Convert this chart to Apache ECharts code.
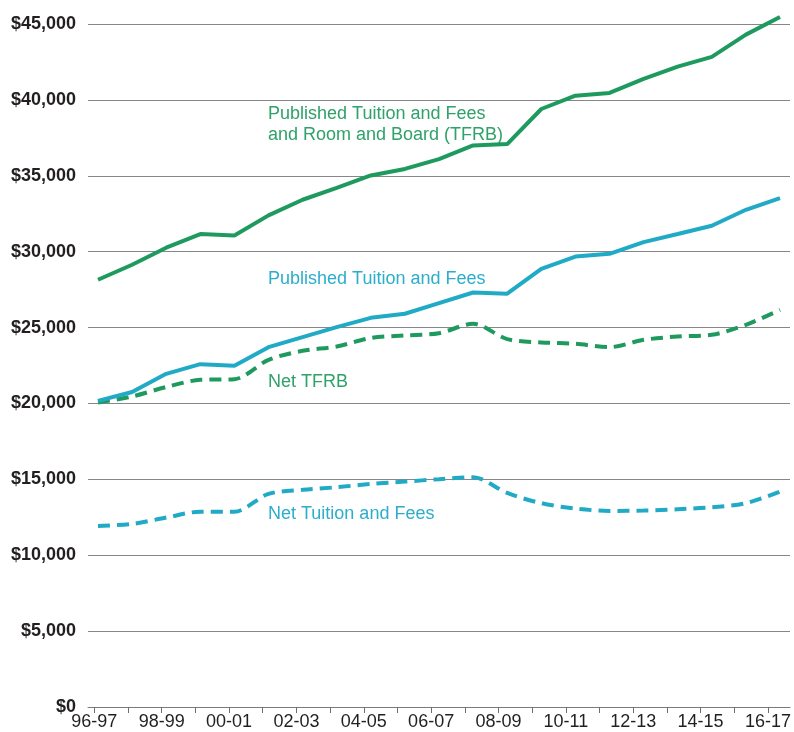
<!DOCTYPE html>
<html>
<head>
<meta charset="utf-8">
<script src="https://cdn.jsdelivr.net/npm/echarts@6/dist/echarts.min.js"></script>
<style>
html,body{margin:0;padding:0;background:#fff;}
#chart{width:794px;height:732px;}
</style>
</head>
<body>
<div id="chart"></div>
<script>
// Academic years (categories / tick labels)
const years = ['96-97','97-98','98-99','99-00','00-01','01-02','02-03','03-04','04-05','05-06','06-07',
               '07-08','08-09','09-10','10-11','11-12','12-13','13-14','14-15','15-16','16-17'];

// Published Tuition and Fees and Room and Board (TFRB)
const publishedTFRB = [28150, 29140, 30260, 31160, 31070, 32390, 33420, 34210, 35020, 35450, 36100,
                       37000, 37090, 39400, 40280, 40460, 41380, 42190, 42830, 44300, 45460];
// Published Tuition and Fees
const publishedTuition = [20170, 20750, 21950, 22590, 22480, 23710, 24370, 25030, 25640, 25910, 26610,
                          27310, 27230, 28870, 29680, 29860, 30630, 31160, 31710, 32760, 33530];
// Net TFRB
const netTFRB = [20060, 20460, 21080, 21560, 21600, 22870, 23470, 23750, 24310, 24480, 24630,
                 25250, 24240, 24020, 23930, 23710, 24190, 24410, 24520, 25180, 26170];
// Net Tuition and Fees
const netTuition = [11930, 12060, 12480, 12870, 12870, 14040, 14310, 14480, 14700, 14850, 15010,
                    15140, 14100, 13430, 13070, 12920, 12940, 13030, 13160, 13430, 14190];

const GREEN = '#1f9a5f';
const BLUE = '#21aac6';
const GREEN_TXT = '#2fa169';
const BLUE_TXT = '#2caecb';
const FONT = "'Liberation Sans', Arial, sans-serif";

function pts(arr) { return arr.map((v, i) => [i, v]); }

const chart = echarts.init(document.getElementById('chart'), null, {renderer: 'canvas'});

const option = {
  animation: false,
  backgroundColor: '#ffffff',
  textStyle: {fontFamily: FONT},
  grid: [
    {left: 88, right: 4, top: 24, bottom: 25, containLabel: false},
    {left: 94.3, right: 25.7, top: 24, bottom: 25, containLabel: false}
  ],
  xAxis: [
    {
      gridIndex: 0, type: 'value', min: -0.2933, max: 20.2933,
      axisLine: {show: true, lineStyle: {color: '#7a7a7a', width: 1}},
      axisTick: {show: false}, axisLabel: {show: false}, splitLine: {show: false}
    },
    {
      gridIndex: 1, type: 'category', data: years, boundaryGap: false,
      axisLine: {show: false},
      axisTick: {show: true, interval: 0, length: 6, lineStyle: {color: '#6e6e6e', width: 1}},
      axisLabel: {interval: 1, fontSize: 18, color: '#231f20', margin: 6, fontFamily: FONT},
      splitLine: {show: false}
    }
  ],
  yAxis: [
    {
      gridIndex: 0, type: 'value', min: 0, max: 45000, interval: 5000,
      axisLine: {show: false}, axisTick: {show: false},
      axisLabel: {
        fontSize: 18, fontWeight: 'bold', color: '#231f20', margin: 12, fontFamily: FONT,
        formatter: v => '$' + v.toLocaleString('en-US')
      },
      splitLine: {show: true, lineStyle: {color: '#878787', width: 1}}
    },
    {gridIndex: 1, type: 'value', min: 0, max: 45000, show: false}
  ],
  series: [
    {
      name: 'Net Tuition and Fees', type: 'line', xAxisIndex: 0, yAxisIndex: 0, clip: false,
      data: pts(netTuition), showSymbol: false, symbol: 'none', smooth: 0.3,
      lineStyle: {color: BLUE, width: 4, type: [12, 7]}
    },
    {
      name: 'Net TFRB', type: 'line', xAxisIndex: 0, yAxisIndex: 0, clip: false,
      data: pts(netTFRB), showSymbol: false, symbol: 'none', smooth: 0.3,
      lineStyle: {color: GREEN, width: 4, type: [12, 7]}
    },
    {
      name: 'Published Tuition and Fees', type: 'line', xAxisIndex: 0, yAxisIndex: 0, clip: false,
      data: pts(publishedTuition), showSymbol: false, symbol: 'none',
      lineStyle: {color: BLUE, width: 4}
    },
    {
      name: 'Published TFRB', type: 'line', xAxisIndex: 0, yAxisIndex: 0, clip: false,
      data: pts(publishedTFRB), showSymbol: false, symbol: 'none',
      lineStyle: {color: GREEN, width: 4}
    }
  ],
  graphic: [
    {type: 'text', left: 268, top: 103, style: {text: 'Published Tuition and Fees\nand Room and Board (TFRB)', fill: GREEN_TXT, font: '18px ' + FONT, lineHeight: 21.6}},
    {type: 'text', left: 268, top: 270, style: {text: 'Published Tuition and Fees', fill: BLUE_TXT, font: '18px ' + FONT}},
    {type: 'text', left: 268, top: 373, style: {text: 'Net TFRB', fill: GREEN_TXT, font: '18px ' + FONT}},
    {type: 'text', left: 268, top: 505, style: {text: 'Net Tuition and Fees', fill: BLUE_TXT, font: '18px ' + FONT}}
  ]
};

chart.setOption(option);
</script>
</body>
</html>
